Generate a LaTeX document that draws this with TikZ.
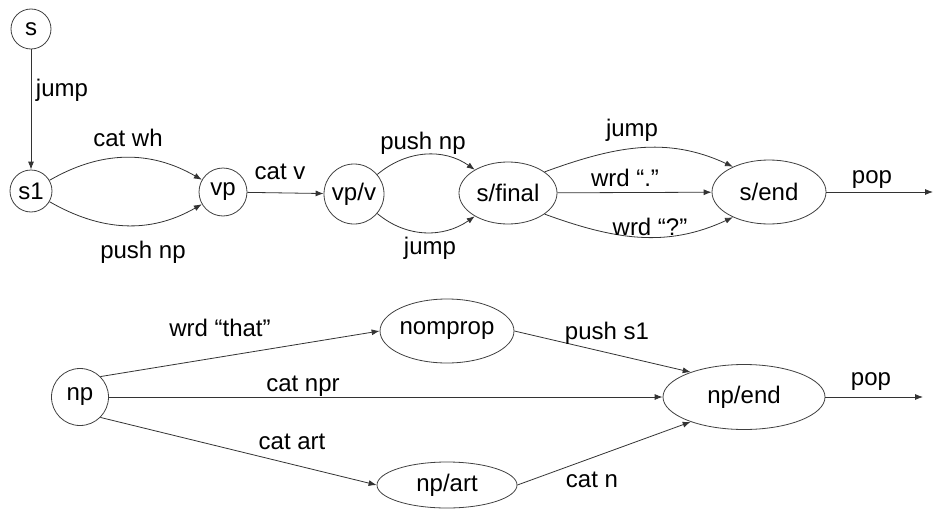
\documentclass[tikz,border=0pt]{standalone}
\usepackage{fontspec}
\setmainfont{Liberation Sans}
\usetikzlibrary{arrows.meta,shapes.geometric}
\begin{document}
\begin{tikzpicture}[x=0.75pt,y=-0.75pt,
  every node/.style={font=\fontsize{18}{21}\selectfont},
  st/.style={draw=black!75,line width=0.6pt,circle,inner sep=0pt},
  el/.style={draw=black!75,line width=0.6pt,ellipse,inner sep=0pt},
  lab/.style={inner sep=0pt,anchor=center},
  arr/.style={draw=black!80,line width=0.6pt,-{Latex[length=6pt,width=4.5pt]}}]
\useasboundingbox (0,0) rectangle (934,510);
% top network
\node[st,minimum size=30pt] (s) at (31,29) {s};
\node[st,minimum size=31.5pt] (s1) at (31,191) {s1};
\node[st,minimum size=36pt] (vp) at (223,192) {vp};
\node[st,minimum size=45pt] (vpv) at (354,194) {vp/v};
\node[el,minimum width=73.5pt,minimum height=46.5pt] (sfinal) at (508,193) {s/final};
\node[el,minimum width=85.5pt,minimum height=48pt] (send) at (769,192) {s/end};
\coordinate (popA) at (933,192);
\draw[arr] (s) -- (s1);
\draw[arr] (s1) to[out=30,in=150] (vp);
\draw[arr] (s1) to[out=-30,in=-150] (vp);
\draw[arr] (vp) -- (vpv);
\draw[arr] (vpv) to[out=40,in=145] (sfinal);
\draw[arr] (vpv) to[out=-40,in=-145] (sfinal);
\draw[arr] (sfinal.30) to[out=20,in=155] (send.145);
\draw[arr] (sfinal) -- (send);
\draw[arr] (sfinal.-30) to[out=-20,in=-155] (send.-145);
\draw[arr] (send) -- (popA);
\node[lab] (l1) at (62,90) {jump};
\node[lab] (l2) at (128,138) {cat wh};
\node[lab] (l3) at (143,252) {push np};
\node[lab] (l4) at (280,172) {cat v};
\node[lab] (l5) at (423,143) {push np};
\node[lab] (l6) at (430,248) {jump};
\node[lab] (l7) at (632,130) {jump};
\node[lab] (l8) at (625,178) {wrd “.”};
\node[lab] (l9) at (650,227) {wrd “?”};
\node[lab] (l10) at (872,180) {pop};
% bottom network
\node[st,minimum size=42.75pt] (np) at (80,397) {np};
\node[el,minimum width=97.5pt,minimum height=48pt] (nomprop) at (447,331) {nomprop};
\node[el,minimum width=121.5pt,minimum height=48.75pt] (npend) at (744,397) {np/end};
\node[el,minimum width=105pt,minimum height=34.5pt] (npart) at (447,485) {np/art};
\coordinate (popB) at (923,397);
\draw[arr] (np.45) -- (nomprop.west);
\draw[arr] (np) -- (npend);
\draw[arr] (np.-45) -- (npart.west);
\draw[arr] (nomprop.east) -- (npend.155);
\draw[arr] (npart.east) -- (npend.-155);
\draw[arr] (npend) -- (popB);
\node[lab] (l11) at (220,328) {wrd “that”};
\node[lab] (l12) at (303,386) {cat npr};
\node[lab] (l13) at (292,442) {cat art};
\node[lab] (l14) at (607,333) {push s1};
\node[lab] (l15) at (592,480) {cat n};
\node[lab] (l16) at (871,382) {pop};
\end{tikzpicture}
\end{document}
